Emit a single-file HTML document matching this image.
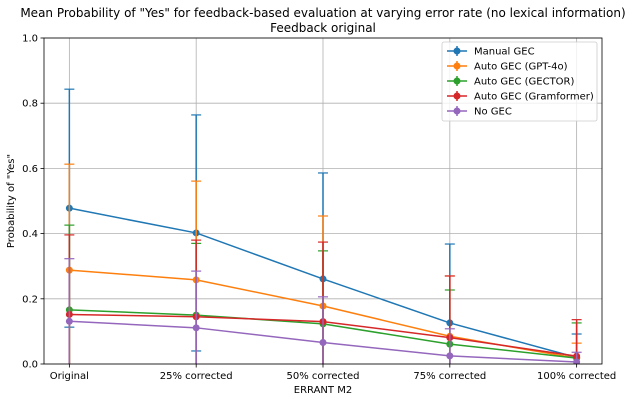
<!DOCTYPE html>
<html><head><meta charset="utf-8"><style>
body{margin:0;background:#fff;font-family:"Liberation Sans","DejaVu Sans",sans-serif}
svg text{font-family:"DejaVu Sans","Liberation Sans",sans-serif}
</style></head><body>
<svg id="c" width="634" height="402" viewBox="0 0 634 402"></svg>
<script>
const categories=["Original","25% corrected","50% corrected","75% corrected","100% corrected"];
const yTicks=[0,0.2,0.4,0.6,0.8,1.0];
const seriesNames=["Manual GEC","Auto GEC (GPT-4o)","Auto GEC (GECTOR)","Auto GEC (Gramformer)","No GEC"];
const manualVals=[0.478,0.402,0.261,0.126,0.02];
const manualErr=[0.365,0.362,0.325,0.242,0.072];
const gptVals=[0.288,0.258,0.178,0.085,0.018];
const gptErr=[0.325,0.303,0.276,0.185,0.046];
const gectorVals=[0.166,0.15,0.123,0.061,0.018];
const gectorErr=[0.26,0.22,0.224,0.166,0.108];
const gramVals=[0.152,0.145,0.13,0.081,0.024];
const gramErr=[0.244,0.235,0.244,0.189,0.112];
const noVals=[0.131,0.111,0.066,0.025,0.006];
const noErr=[0.192,0.174,0.14,0.083,0.03];
const colors=["#1f77b4","#ff7f0e","#2ca02c","#d62728","#9467bd"];
const allVals=[manualVals,gptVals,gectorVals,gramVals,noVals];
const allErr=[manualErr,gptErr,gectorErr,gramErr,noErr];
const L=44,R=602,T=38,B=364;
const x=i=>L+(i+0.2)*(R-L)/(categories.length-1+0.4);
const y=v=>B-v*(B-T);
const svg=document.getElementById('c');const NS="http://www.w3.org/2000/svg";
function mk(t,a,p){const e=document.createElementNS(NS,t);for(const k in a)e.setAttribute(k,a[k]);(p||svg).appendChild(e);return e;}
const defs=mk('defs',{});const cp=mk('clipPath',{id:'cp'},defs);mk('rect',{x:L,y:T,width:R-L,height:B-T},cp);
// grid
yTicks.forEach(t=>{const g=mk('line',{x1:L,x2:R,y1:y(t),y2:y(t),stroke:'#b0b0b0','stroke-width':0.8});

mk('line',{x1:L-3.5,x2:L,y1:y(t),y2:y(t),stroke:'#000','stroke-width':0.8});
const tx=mk('text',{x:L-6,y:y(t)+3.5,'text-anchor':'end','font-size':10});tx.textContent=t.toFixed(1);
});
categories.forEach((c,i)=>{const g=mk('line',{x1:x(i),x2:x(i),y1:T,y2:B,stroke:'#b0b0b0','stroke-width':0.8});

mk('line',{x1:x(i),x2:x(i),y1:B,y2:B+3.5,stroke:'#000','stroke-width':0.8});
const tx=mk('text',{x:x(i),y:B+15,'text-anchor':'middle','font-size':10});tx.textContent=c;
});
const plot=mk('g',{'clip-path':'url(#cp)'});
allVals.forEach((vals,s)=>{const g=mk('g',{},plot);

vals.forEach((v,i)=>{const e=allErr[s][i];
mk('line',{x1:x(i),x2:x(i),y1:y(v+e),y2:y(v-e),stroke:colors[s],'stroke-width':1.5},g);
[v+e,v-e].forEach(w=>mk('line',{x1:x(i)-5,x2:x(i)+5,y1:y(w),y2:y(w),stroke:colors[s],'stroke-width':1.2},g));});
const pl=mk('polyline',{points:vals.map((v,i)=>x(i)+','+y(v)).join(' '),fill:'none',stroke:colors[s],'stroke-width':1.5},g);

vals.forEach((v,i)=>{const p=mk('circle',{cx:x(i),cy:y(v),r:3.5,fill:colors[s]},g);
});});
mk('rect',{x:L,y:T,width:R-L,height:B-T,fill:'none',stroke:'#000','stroke-width':0.8});
function txt(s,a,n){const t=mk('text',a);t.textContent=s;}
txt('Mean Probability of "Yes" for feedback-based evaluation at varying error rate (no lexical information)',{x:323,y:17,'text-anchor':'middle','font-size':12},'chart-title');
txt('Feedback original',{x:323,y:32,'text-anchor':'middle','font-size':12},'chart-subtitle');
txt('ERRANT M2',{x:323,y:393,'text-anchor':'middle','font-size':10},'x-axis-title');
txt('Probability of "Yes"',{x:14,y:201,'text-anchor':'middle','font-size':10,transform:'rotate(-90 14 201)'},'y-axis-title');
// legend
const lg=mk('g',{});
mk('rect',{x:442,y:42,width:155,height:79,rx:2,fill:'#fff','fill-opacity':0.8,stroke:'#ccc','stroke-width':0.8},lg);
seriesNames.forEach((n,s)=>{const yy=51+s*15;const e=mk('g',{},lg);

mk('line',{x1:447,x2:467,y1:yy,y2:yy,stroke:colors[s],'stroke-width':1.5},e);
mk('line',{x1:457,x2:457,y1:yy-5,y2:yy+5,stroke:colors[s],'stroke-width':1.5},e);
mk('circle',{cx:457,cy:yy,r:3.5,fill:colors[s]},e);
const t=mk('text',{x:474,y:yy+3.5,'font-size':10},e);t.textContent=n;});
</script></body></html>
